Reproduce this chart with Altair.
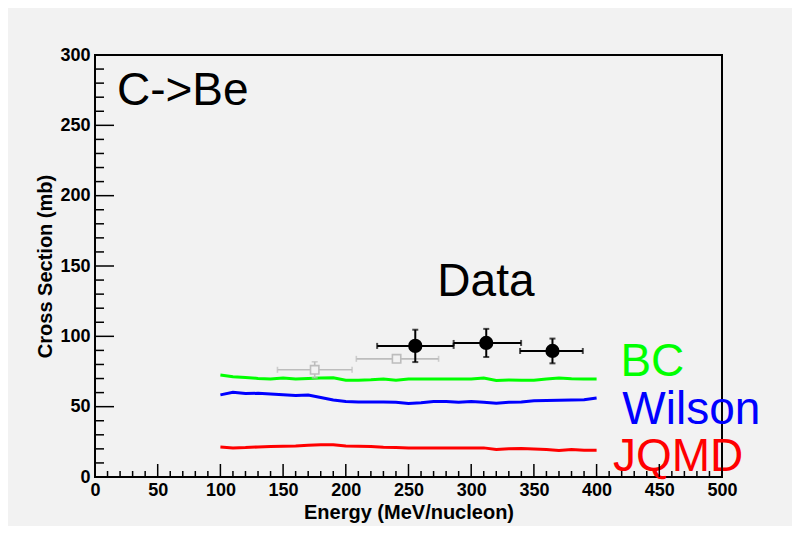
import altair as alt
import pandas as pd

# ---------------- data ----------------
energy = [100, 110, 120, 130, 140, 150, 160, 170, 180, 190, 200, 210, 220, 230, 240,
          250, 260, 270, 280, 290, 300, 310, 320, 330, 340, 350, 360, 370, 380, 390, 400]
bc = [72.5, 71.2, 70.8, 70.1, 69.6, 70.3, 69.6, 70.1, 70.3, 70.5, 68.8, 68.8, 69.1, 69.6, 68.8,
      69.6, 69.6, 69.6, 69.6, 69.6, 69.6, 70.3, 68.6, 68.9, 68.7, 68.7, 69.6, 70.3, 69.8, 69.6, 69.6]
wilson = [58.4, 60.2, 59.3, 59.5, 59.0, 58.5, 57.9, 58.3, 56.5, 54.8, 53.6, 53.4, 53.4, 53.4, 53.2,
          52.2, 52.8, 53.6, 53.6, 53.1, 53.6, 53.2, 52.5, 53.2, 53.4, 54.2, 54.3, 54.5, 54.8, 55.0, 56.2]
jqmd = [21.4, 20.7, 20.9, 21.4, 21.6, 21.8, 22.1, 22.6, 23.0, 23.0, 22.0, 21.8, 21.6, 21.2, 21.0,
        20.7, 20.7, 20.7, 20.7, 20.7, 20.7, 20.7, 19.6, 20.0, 20.2, 19.9, 19.5, 18.9, 19.6, 19.1, 19.1]

# measured data (black)
data_x = [255.4, 312.0, 364.8]
data_xlo = [225.0, 286.0, 339.0]
data_xhi = [286.0, 339.8, 389.0]
data_y = [93.2, 95.3, 89.6]
data_err = [11.5, 10.0, 8.8]

# older data (grey open squares)
old_x = [175.2, 240.5]
old_xlo = [145.5, 208.4]
old_xhi = [205.0, 274.0]
old_y = [76.2, 84.0]
old_err = [5.7, 2.5]

# annotations
ann_text = ["C->Be", "Data", "BC", "Wilson", "JQMD"]
ann_x = [17.5, 273, 419, 420.5, 413]
ann_y = [264.7, 128.5, 72.0, 37.4, 4.2]
ann_color = ["#000000", "#000000", "#00ff00", "#0000ff", "#ff0000"]

y_major = [0, 50, 100, 150, 200, 250, 300]
y_minor = [v for v in range(0, 301, 10) if v % 50 != 0]
x_major = [0, 50, 100, 150, 200, 250, 300, 350, 400, 450, 500]
x_minor = [v for v in range(0, 501, 10) if v % 50 != 0]

# ---------------- tables ----------------
curves = pd.DataFrame({
    "E": energy * 3,
    "sigma": bc + wilson + jqmd,
    "model": ["BC"] * len(energy) + ["Wilson"] * len(energy) + ["JQMD"] * len(energy),
})
meas = pd.DataFrame({"x": data_x, "xlo": data_xlo, "xhi": data_xhi, "y": data_y,
                     "ylo": [a - b for a, b in zip(data_y, data_err)],
                     "yhi": [a + b for a, b in zip(data_y, data_err)]})
old = pd.DataFrame({"x": old_x, "xlo": old_xlo, "xhi": old_xhi, "y": old_y,
                    "ylo": [a - b for a, b in zip(old_y, old_err)],
                    "yhi": [a + b for a, b in zip(old_y, old_err)]})
ann = pd.DataFrame({"t": ann_text, "x": ann_x, "y": ann_y, "c": ann_color})

FONT = "Liberation Sans"
BG = "#f2f2f2"
H = 422

xscale = alt.Scale(domain=[0, 500], nice=False, zero=False)
yscale = alt.Scale(domain=[0, 300], nice=False, zero=False)

xaxis = alt.Axis(values=x_major, ticks=False, domain=False, grid=False, labelFont=FONT,
                 labelFontSize=18, labelFontWeight="bold", labelColor="black", labelPadding=4,
                 title="Energy (MeV/nucleon)", titleFont=FONT, titleFontSize=20,
                 titleFontWeight="bold", titleColor="black", titlePadding=3,
                 labelFlush=False)
yaxis = alt.Axis(values=y_major, ticks=False, domain=False, grid=False, labelFont=FONT,
                 labelFontSize=18, labelFontWeight="bold", labelColor="black", labelPadding=5,
                 title="Cross Section (mb)", titleFont=FONT, titleFontSize=20,
                 titleFontWeight="bold", titleColor="black", titlePadding=4,
                 labelFlush=False)

lines = alt.Chart(curves).mark_line(strokeWidth=3, interpolate="linear").encode(
    x=alt.X("E:Q", scale=xscale, axis=xaxis),
    y=alt.Y("sigma:Q", scale=yscale, axis=yaxis),
    color=alt.Color("model:N", scale=alt.Scale(domain=["BC", "Wilson", "JQMD"],
                                               range=["#00ff00", "#0000ff", "#ff0000"]),
                    legend=None),
    detail="model:N",
)

def errbars(df, color, width, cap, size, shape, filled, fill):
    h = alt.Chart(df).mark_rule(color=color, strokeWidth=width).encode(
        x="xlo:Q", x2="xhi:Q", y="y:Q")
    v = alt.Chart(df).mark_rule(color=color, strokeWidth=width).encode(
        x="x:Q", y="ylo:Q", y2="yhi:Q")
    capx1 = alt.Chart(df).mark_tick(color=color, thickness=width, size=cap, orient="vertical").encode(
        x="xlo:Q", y="y:Q")
    capx2 = alt.Chart(df).mark_tick(color=color, thickness=width, size=cap, orient="vertical").encode(
        x="xhi:Q", y="y:Q")
    capy1 = alt.Chart(df).mark_tick(color=color, thickness=width, size=cap, orient="horizontal").encode(
        x="x:Q", y="ylo:Q")
    capy2 = alt.Chart(df).mark_tick(color=color, thickness=width, size=cap, orient="horizontal").encode(
        x="x:Q", y="yhi:Q")
    pts = alt.Chart(df).mark_point(shape=shape, size=size, filled=filled, fill=fill,
                                   stroke=color, strokeWidth=width, opacity=1).encode(
        x="x:Q", y="y:Q")
    return [h, v, capx1, capx2, capy1, capy2, pts]

old_layers = errbars(old, "#bdbdbd", 1.6, 6, 70, "square", True, BG)
meas_layers = errbars(meas, "#000000", 2, 6, 150, "circle", True, "#000000")

texts = alt.Chart(ann).mark_text(font=FONT, fontSize=46, align="left", baseline="alphabetic").encode(
    x="x:Q", y="y:Q", text="t:N", color=alt.Color("c:N", scale=None))

ymaj = alt.Chart(pd.DataFrame({"v": y_major})).mark_rule(color="black", strokeWidth=1.5).encode(
    y="v:Q", x=alt.value(0), x2=alt.value(19))
ymin = alt.Chart(pd.DataFrame({"v": y_minor})).mark_rule(color="black", strokeWidth=1.5).encode(
    y="v:Q", x=alt.value(0), x2=alt.value(9))
xmaj = alt.Chart(pd.DataFrame({"v": x_major})).mark_rule(color="black", strokeWidth=1.5).encode(
    x="v:Q", y=alt.value(H), y2=alt.value(H - 13))
xmin = alt.Chart(pd.DataFrame({"v": x_minor})).mark_rule(color="black", strokeWidth=1.5).encode(
    x="v:Q", y=alt.value(H), y2=alt.value(H - 6))

chart = alt.layer(lines, *old_layers, *meas_layers, texts, ymaj, ymin, xmaj, xmin).properties(
    width=627, height=H,
    autosize=alt.AutoSizeParams(type="none"),
    padding={"left": 87, "top": 47, "right": 70, "bottom": 49},
    background=BG,
).configure_view(stroke="black", strokeWidth=2, fill=BG)

chart.save("out.html", embed_options={"renderer": "svg", "actions": False})
